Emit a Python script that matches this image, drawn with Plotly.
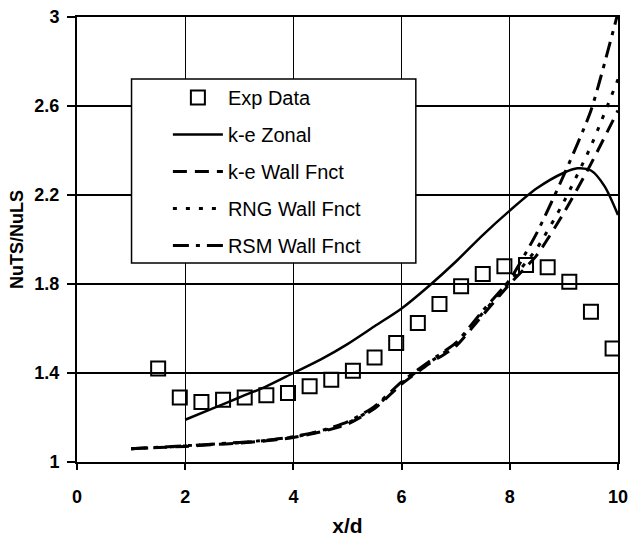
import plotly.graph_objects as go

# Experimental heat-transfer ratio
exp_x = [1.5, 1.9, 2.3, 2.7, 3.1, 3.5, 3.9, 4.3, 4.7, 5.1, 5.5,
         5.9, 6.3, 6.7, 7.1, 7.5, 7.9, 8.3, 8.7, 9.1, 9.5, 9.9]
exp_y = [1.42, 1.29, 1.27, 1.28, 1.29, 1.30, 1.31, 1.34, 1.37, 1.41, 1.47,
         1.535, 1.625, 1.71, 1.79, 1.845, 1.88, 1.885, 1.875, 1.81, 1.675, 1.51]

# k-epsilon zonal model
zonal_x = [2, 2.5, 3, 3.5, 4, 4.5, 5, 5.5, 6, 6.5, 7, 7.5, 8, 8.5,
           9, 9.25, 9.5, 9.75, 10]
zonal_y = [1.19, 1.24, 1.29, 1.34, 1.40, 1.46, 1.53, 1.61, 1.69, 1.79, 1.90,
           2.02, 2.13, 2.23, 2.30, 2.32, 2.31, 2.24, 2.11]

# Wall-function models
wall_x = [1, 1.5, 2, 2.5, 3, 3.5, 4, 4.5, 5, 5.5, 6, 6.5, 7, 7.5, 8,
          8.5, 9, 9.5, 10]
ke_wall_y = [1.06, 1.065, 1.07, 1.078, 1.085, 1.095, 1.11, 1.135, 1.17, 1.24,
             1.35, 1.44, 1.52, 1.66, 1.80, 1.93, 2.12, 2.34, 2.58]
rng_wall_y = [1.06, 1.065, 1.072, 1.08, 1.087, 1.097, 1.112, 1.138, 1.175, 1.245,
              1.355, 1.445, 1.53, 1.67, 1.81, 1.96, 2.17, 2.42, 2.72]
rsm_wall_y = [1.06, 1.066, 1.073, 1.08, 1.088, 1.098, 1.114, 1.14, 1.18, 1.25,
              1.36, 1.45, 1.535, 1.68, 1.82, 2.03, 2.29, 2.58, 3.02]

y_ticks = [1, 1.4, 1.8, 2.2, 2.6, 3]
y_tick_text = ["1", "1.4", "1.8", "2.2", "2.6", "3"]
x_ticks = [0, 2, 4, 6, 8, 10]

FONT = "Arial, Liberation Sans, sans-serif"

fig = go.Figure()

fig.add_trace(go.Scatter(
    x=exp_x, y=exp_y, mode="markers", name="Exp Data", legendgroup="a",
    marker=dict(symbol="square-open", size=14, color="black",
                line=dict(width=2, color="black")),
))
fig.add_trace(go.Scatter(
    x=zonal_x, y=zonal_y, mode="lines", name="k-e Zonal", legendgroup="b",
    line=dict(color="black", width=2.5, shape="spline", smoothing=0.8),
))
fig.add_trace(go.Scatter(
    x=wall_x, y=ke_wall_y, mode="lines", name="k-e Wall Fnct", legendgroup="c",
    line=dict(color="black", width=3, dash="14px,8px", shape="spline", smoothing=0.6),
))
fig.add_trace(go.Scatter(
    x=wall_x, y=rng_wall_y, mode="lines", name="RNG Wall Fnct", legendgroup="d",
    line=dict(color="black", width=3, dash="4px,9px", shape="spline", smoothing=0.6),
))
fig.add_trace(go.Scatter(
    x=wall_x, y=rsm_wall_y, mode="lines", name="RSM Wall Fnct", legendgroup="e",
    line=dict(color="black", width=3, dash="16px,7px,4px,7px", shape="spline", smoothing=0.6),
))

# Legend frame (white box that hides the grid behind the legend)
fig.add_shape(type="rect", xref="paper", yref="paper",
              x0=0.1008, x1=0.6263, y0=0.4472, y1=0.8607,
              line=dict(color="black", width=1.5), fillcolor="white", layer="above")

fig.update_layout(
    width=631, height=537,
    margin=dict(l=77, r=13, t=17, b=75),
    paper_bgcolor="white", plot_bgcolor="white",
    font=dict(family=FONT, color="black"),
    showlegend=True,
    legend=dict(
        x=0.168, y=0.863, xanchor="left", yanchor="top",
        bgcolor="rgba(0,0,0,0)", borderwidth=0,
        font=dict(family=FONT, size=20, color="black"),
        tracegroupgap=8, itemwidth=50,
    ),
    xaxis=dict(
        range=[0, 10], tickvals=x_ticks, ticks="outside", ticklen=6,
        tickwidth=1.5, tickcolor="black",
        showline=True, linecolor="black", linewidth=2, mirror=True,
        showgrid=True, gridcolor="black", gridwidth=1,
        zeroline=False, automargin=False,
        tickfont=dict(family=FONT, size=18, weight="bold"),
        ticklabelstandoff=11,
        title=dict(text="x/d", font=dict(family=FONT, size=21, weight="bold"),
                   standoff=13),
    ),
    yaxis=dict(
        range=[1, 3], tickvals=y_ticks, ticktext=y_tick_text,
        ticks="outside", ticklen=8, tickwidth=1.5, tickcolor="black",
        showline=True, linecolor="black", linewidth=2, mirror=True,
        showgrid=True, gridcolor="black", gridwidth=1.5,
        zeroline=False, automargin=False,
        tickfont=dict(family=FONT, size=18, weight="bold"),
        ticklabelstandoff=4,
        title=dict(text="NuTS/NuLS", font=dict(family=FONT, size=18, weight="bold"),
                   standoff=6),
    ),
)

fig.write_html("out.html")
